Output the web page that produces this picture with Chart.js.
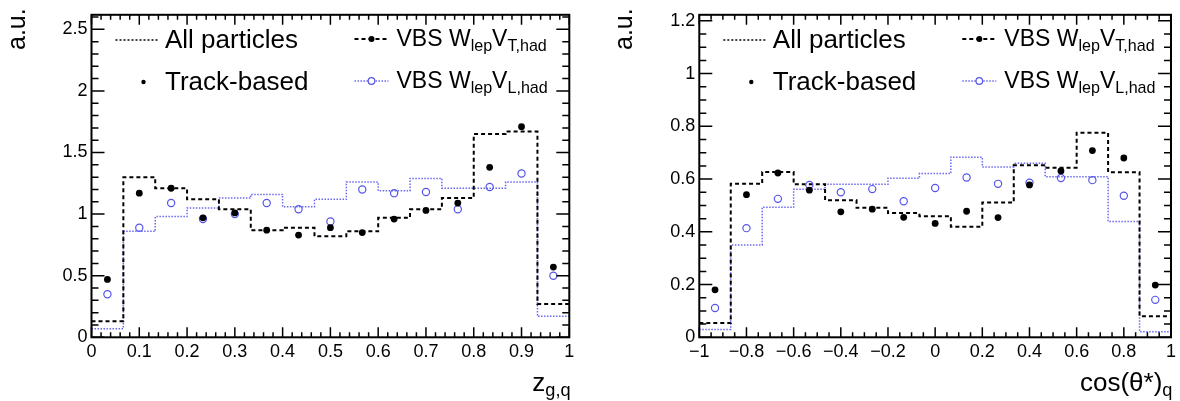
<!DOCTYPE html>
<html>
<head>
<meta charset="utf-8">
<script src="https://cdn.jsdelivr.net/npm/chart.js@4.4.1/dist/chart.umd.min.js"></script>
<style>
  body { margin: 0; background: #fff; width: 1180px; height: 401px; overflow: hidden; position: relative;
         font-family: "Liberation Sans", Arial, sans-serif; color: #000; }
  .panel { position: absolute; top: 0; width: 590px; height: 401px; }
  .panel canvas { position: absolute; left: 0; top: 0; }
  .txt { position: absolute; white-space: nowrap; line-height: 1; }
  .big { font-size: 26px; }
  .mid { font-size: 23px; }
  .sb { position: relative; font-size: 0.7em; top: 0.3em; }
  .au { font-size: 25px; transform-origin: left top; transform: rotate(-90deg); }
</style>
</head>
<body>
<div class="panel" id="p1" style="left:0"><canvas id="zgq" width="590" height="401"></canvas></div>
<div class="panel" id="p2" style="left:590px"><canvas id="cost" width="590" height="401"></canvas></div>
<script>
// 15 bins on each axis
const binCount = 15;
const zRange = [0, 1];
const cosRange = [-1, 1];

const zTickLabels = [0, 0.1, 0.2, 0.3, 0.4, 0.5, 0.6, 0.7, 0.8, 0.9, 1];
const zYTickLabels = [0, 0.5, 1, 1.5, 2, 2.5];
const cosTickLabels = [-1, -0.8, -0.6, -0.4, -0.2, 0, 0.2, 0.4, 0.6, 0.8, 1];
const cosYTickLabels = [0, 0.2, 0.4, 0.6, 0.8, 1, 1.2];

// z_g,q : all particles (histograms) and track-based (markers)
const zAllT = [0.13, 1.30, 1.21, 1.12, 1.04, 0.87, 0.89, 0.82, 0.86, 0.97, 1.04, 1.13, 1.65, 1.67, 0.27];
const zAllL = [0.07, 0.86, 0.98, 1.05, 1.13, 1.16, 1.06, 1.12, 1.26, 1.19, 1.29, 1.21, 1.21, 1.26, 0.17];
const zTrackT = [0.47, 1.17, 1.21, 0.97, 1.01, 0.87, 0.83, 0.89, 0.85, 0.96, 1.03, 1.09, 1.38, 1.71, 0.57];
const zTrackL = [0.35, 0.89, 1.09, 0.96, 1.00, 1.09, 1.04, 0.94, 1.20, 1.17, 1.18, 1.04, 1.22, 1.33, 0.50];

// cos(theta*)_q
const cosAllT = [0.054, 0.582, 0.627, 0.580, 0.520, 0.491, 0.471, 0.459, 0.419, 0.511, 0.652, 0.643, 0.776, 0.626, 0.080];
const cosAllL = [0.030, 0.350, 0.493, 0.561, 0.580, 0.580, 0.603, 0.621, 0.683, 0.646, 0.660, 0.609, 0.609, 0.439, 0.021];
const cosTrackT = [0.180, 0.541, 0.623, 0.558, 0.476, 0.486, 0.455, 0.432, 0.478, 0.454, 0.578, 0.631, 0.708, 0.680, 0.198];
const cosTrackL = [0.111, 0.414, 0.525, 0.578, 0.550, 0.562, 0.516, 0.566, 0.606, 0.582, 0.586, 0.604, 0.596, 0.537, 0.142];

const BLUE_LINE = 'rgb(105,105,240)';
const BLUE_MARK = 'rgb(85,85,235)';
const FONT = '"Liberation Sans", Arial, sans-serif';

Chart.defaults.font.family = FONT;
Chart.defaults.font.size = 18;
Chart.defaults.color = '#000';

function edges(range) {
  const w = (range[1] - range[0]) / binCount;
  return Array.from({length: binCount + 1}, (_, i) => range[0] + i * w);
}
function stepData(range, vals) {
  const e = edges(range);
  const pts = vals.map((v, i) => ({x: e[i], y: v}));
  pts.push({x: e[binCount], y: vals[binCount - 1]});
  return pts;
}
function pointData(range, vals) {
  const e = edges(range);
  return vals.map((v, i) => ({x: (e[i] + e[i + 1]) / 2, y: v}));
}
function fmt(v) {
  return String(Math.round(v * 10) / 10).replace('-', '\u2212');
}

// ROOT-like frame with inward ticks on all four sides + legend symbols
const framePlugin = {
  id: 'frame',
  afterDatasetsDraw(chart, args, opts) {
    const {ctx, chartArea: a, scales: {x, y}} = chart;
    ctx.save();
    ctx.strokeStyle = '#000';
    ctx.lineWidth = 1.5;
    const isMajor = (arr, v) => arr.some(t => Math.abs(t - v) < 1e-6);
    const nx = Math.floor((x.max - x.min) / opts.xMinor + 1e-6);
    for (let i = 0; i <= nx; i++) {
      const v = x.min + i * opts.xMinor;
      const px = x.getPixelForValue(v);
      const len = isMajor(opts.xMajor, v) ? 10 : 5;
      ctx.beginPath();
      ctx.moveTo(px, a.bottom); ctx.lineTo(px, a.bottom - len);
      ctx.moveTo(px, a.top); ctx.lineTo(px, a.top + len);
      ctx.stroke();
    }
    const ny = Math.floor((y.max - y.min) / opts.yMinor + 1e-6);
    for (let i = 0; i <= ny; i++) {
      const v = y.min + i * opts.yMinor;
      const py = y.getPixelForValue(v);
      const len = isMajor(opts.yMajor, v) ? 13 : 7;
      ctx.beginPath();
      ctx.moveTo(a.left, py); ctx.lineTo(a.left + len, py);
      ctx.moveTo(a.right, py); ctx.lineTo(a.right - len, py);
      ctx.stroke();
    }
    ctx.lineWidth = 2;
    ctx.strokeRect(a.left, a.top, a.width, a.height);

    // legend symbols
    const L = a.left;
    ctx.lineWidth = 1.3;
    ctx.setLineDash([2, 2]);
    ctx.beginPath(); ctx.moveTo(L + 24, 40); ctx.lineTo(L + 66, 40); ctx.stroke();
    ctx.setLineDash([]);
    ctx.fillStyle = '#000';
    ctx.beginPath(); ctx.arc(L + 52, 82, 2.2, 0, Math.PI * 2); ctx.fill();

    ctx.lineWidth = 2;
    ctx.setLineDash([4, 3]);
    ctx.beginPath(); ctx.moveTo(L + 263, 39); ctx.lineTo(L + 297, 39); ctx.stroke();
    ctx.setLineDash([]);
    ctx.beginPath(); ctx.arc(L + 280, 39, 3, 0, Math.PI * 2); ctx.fill();

    ctx.strokeStyle = BLUE_LINE;
    ctx.lineWidth = 1.5;
    ctx.setLineDash([1.5, 1.5]);
    ctx.beginPath(); ctx.moveTo(L + 263, 81); ctx.lineTo(L + 297, 81); ctx.stroke();
    ctx.setLineDash([]);
    ctx.strokeStyle = BLUE_MARK;
    ctx.lineWidth = 1.2;
    ctx.fillStyle = '#fff';
    ctx.beginPath(); ctx.arc(L + 280, 81, 3.3, 0, Math.PI * 2); ctx.fill(); ctx.stroke();
    ctx.restore();
  }
};

function buildPanel(canvasId, panelId, o) {
  const chart = new Chart(document.getElementById(canvasId), {
    type: 'scatter',
    data: {
      datasets: [
        { label: 'Track-based VT', data: pointData(o.range, o.trackT), showLine: false,
          pointStyle: 'circle', pointRadius: 3.4, backgroundColor: '#000', borderColor: '#000', borderWidth: 0 },
        { label: 'Track-based VL', data: pointData(o.range, o.trackL), showLine: false,
          pointStyle: 'circle', pointRadius: 3.6, backgroundColor: 'rgba(255,255,255,0)', borderColor: BLUE_MARK, borderWidth: 1.2 },
        { label: 'All particles VT', data: stepData(o.range, o.allT), showLine: true, stepped: 'before',
          pointRadius: 0, borderColor: '#000', borderWidth: 2, borderDash: [4, 3], fill: false },
        { label: 'All particles VL', data: stepData(o.range, o.allL), showLine: true, stepped: 'before',
          pointRadius: 0, borderColor: BLUE_LINE, borderWidth: 1.5, borderDash: [1.5, 1.5], fill: false }
      ]
    },
    options: {
      responsive: false,
      animation: false,
      events: [],
      layout: { padding: o.padding },
      plugins: {
        legend: { display: false },
        tooltip: { enabled: false },
        frame: { xMinor: o.xMinor, yMinor: o.yMinor, xMajor: o.xTicks, yMajor: o.yTicks }
      },
      scales: {
        x: {
          type: 'linear', min: o.range[0], max: o.range[1],
          grid: { display: false, drawTicks: false }, border: { display: false },
          afterBuildTicks: s => { s.ticks = o.xTicks.map(v => ({value: v})); },
          afterFit: s => { s.height = 63.7; },
          ticks: { autoSkip: false, maxRotation: 0, padding: 4, callback: v => fmt(v) }
        },
        y: {
          type: 'linear', min: 0, max: o.yMax,
          grid: { display: false, drawTicks: false }, border: { display: false },
          afterBuildTicks: s => { s.ticks = o.yTicks.map(v => ({value: v})); },
          afterFit: s => { s.width = o.yWidth; },
          ticks: { padding: 4, callback: v => fmt(v) }
        }
      }
    },
    plugins: [framePlugin]
  });

  // text overlays, placed against the chart area
  const a = chart.chartArea;
  const panel = document.getElementById(panelId);
  const add = (cls, html, left, top) => {
    const d = document.createElement('div');
    d.className = 'txt ' + cls;
    d.innerHTML = html;
    d.style.left = left + 'px';
    d.style.top = top + 'px';
    panel.appendChild(d);
    return d;
  };
  add('big', 'All particles', a.left + 73.5, 26.3);
  add('big', 'Track-based', a.left + 73.5, 68);
  add('mid', 'VBS W<span class="sb">lep</span>V<span class="sb">T,had</span>', a.left + 305, 27.2);
  add('mid', 'VBS W<span class="sb">lep</span>V<span class="sb">L,had</span>', a.left + 305, 68.8);
  const xt = add('big', o.xTitle, 0, 369);
  xt.style.left = (a.right - xt.offsetWidth + 1) + 'px';
  const au = add('au', 'a.u.', a.left - 88, 0);
  au.style.top = (8 + au.offsetWidth) + 'px';
  return chart;
}

buildPanel('zgq', 'p1', {
  range: zRange, trackT: zTrackT, trackL: zTrackL, allT: zAllT, allL: zAllL,
  xTicks: zTickLabels, yTicks: zYTickLabels, yMax: 2.618, xMinor: 0.02, yMinor: 0.1,
  yWidth: 91.5, padding: { left: 0, right: 20.7, top: 9.3, bottom: 0 },
  xTitle: 'z<span class="sb">g,q</span>'
});
buildPanel('cost', 'p2', {
  range: cosRange, trackT: cosTrackT, trackL: cosTrackL, allT: cosAllT, allL: cosAllL,
  xTicks: cosTickLabels, yTicks: cosYTickLabels, yMax: 1.223, xMinor: 0.05, yMinor: 0.05,
  yWidth: 109.3, padding: { left: 0, right: 4.7, top: 8.5, bottom: 0 },
  xTitle: 'cos(\u03b8*)<span class="sb">q</span>'
});
</script>
</body>
</html>
